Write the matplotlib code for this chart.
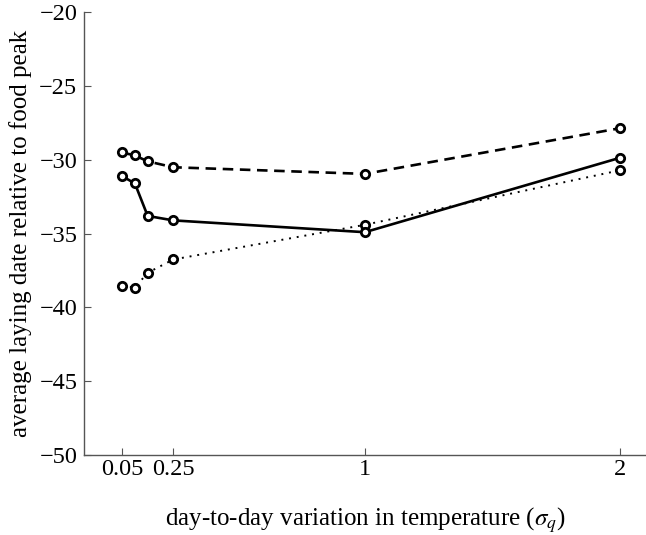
import matplotlib
matplotlib.use('Agg')
import matplotlib.pyplot as plt

# variation in temperature (sigma_q)
sigma = [0.05, 0.1, 0.15, 0.25, 1, 2]

# average laying date relative to food peak, one list per line
dashed_vals = [-29.5, -29.7, -30.1, -30.5, -30.95, -27.85]
solid_vals = [-31.1, -31.6, -33.8, -34.1, -34.9, -29.85]
dotted_vals = [-38.55, -38.65, -37.65, -36.75, -34.4, -30.7]

xticks = [0.05, 0.25, 1, 2]
xtick_labels = ['0.05', '0.25', '1', '2']
yticks = [-50, -45, -40, -35, -30, -25, -20]

plt.rcParams['font.family'] = ['Liberation Serif', 'DejaVu Serif']
plt.rcParams['mathtext.fontset'] = 'stix'

fig = plt.figure(figsize=(6.46, 5.35), dpi=100)
ax = fig.add_axes([0.1305, 0.1495, 0.8695, 0.8275])

marker_opts = dict(marker='o', markersize=6, markerfacecolor='white',
                   markeredgecolor='black', markeredgewidth=2.0, color='black')

ax.plot(sigma, dotted_vals, linestyle=(0, (1, 3)), linewidth=1.4, **marker_opts)
ax.plot(sigma, dashed_vals, linestyle=(0, (4, 2.5)), linewidth=1.9, **marker_opts)
ax.plot(sigma, solid_vals, linestyle='-', linewidth=1.9, **marker_opts)

ax.set_xlim(-0.098, 2.1)
ax.set_ylim(-50, -20)
ax.set_xticks(xticks)
ax.set_xticklabels(xtick_labels)
ax.set_yticks(yticks)

for side in ['top', 'right']:
    ax.spines[side].set_visible(False)
for side in ['left', 'bottom']:
    ax.spines[side].set_color('#555555')
    ax.spines[side].set_linewidth(1.0)

ax.tick_params(direction='in', length=5, width=0.8, color='#555555',
               labelsize=17.5)
ax.tick_params(axis='y', pad=5)
ax.tick_params(axis='x', pad=3)

ax.set_xlabel(r'day-to-day variation in temperature ($\sigma_q$)', fontsize=18, labelpad=18)
ax.set_ylabel('average laying date relative to food peak', fontsize=18, labelpad=5)

fig.savefig('out.png', dpi=100)
